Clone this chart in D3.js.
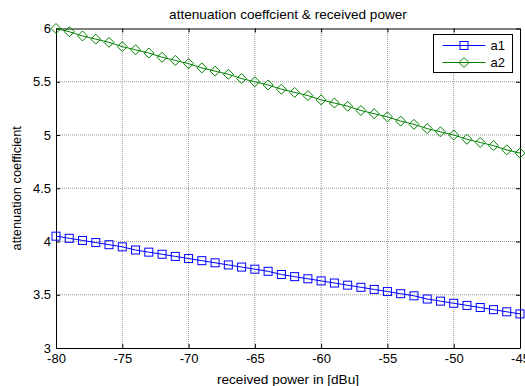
<!DOCTYPE html>
<html>
<head>
<meta charset="utf-8">
<script src="https://cdn.jsdelivr.net/npm/d3@7"></script>
<style>
  body { margin: 0; background: #fff; }
  svg { display: block; font-family: "Liberation Sans", Arial, sans-serif; }
</style>
</head>
<body>
<div id="chart"></div>
<script>
// received power [dBu], one point per dB
const power = [-80, -79, -78, -77, -76, -75, -74, -73, -72, -71, -70, -69, -68, -67, -66, -65, -64, -63,
  -62, -61, -60, -59, -58, -57, -56, -55, -54, -53, -52, -51, -50, -49, -48, -47, -46, -45];

const a1 = [4.05, 4.03, 4.01, 3.99, 3.97, 3.95, 3.92, 3.90, 3.88, 3.86, 3.84, 3.82, 3.80, 3.78, 3.76, 3.74,
  3.72, 3.69, 3.67, 3.65, 3.63, 3.61, 3.59, 3.57, 3.55, 3.53, 3.51, 3.49, 3.46, 3.44, 3.42, 3.40, 3.38, 3.36, 3.34, 3.32];

const a2 = [6.00, 5.97, 5.93, 5.90, 5.87, 5.83, 5.80, 5.77, 5.73, 5.70, 5.67, 5.63, 5.60, 5.57, 5.53, 5.50,
  5.47, 5.43, 5.40, 5.37, 5.33, 5.30, 5.27, 5.23, 5.20, 5.17, 5.13, 5.10, 5.06, 5.03, 5.00, 4.96, 4.93, 4.90, 4.86, 4.83];

const xTicks = [-80, -75, -70, -65, -60, -55, -50, -45];
const yTicks = [3, 3.5, 4, 4.5, 5, 5.5, 6];

const series = [
  { name: 'a1', values: a1, color: '#0000ff', marker: 'square' },
  { name: 'a2', values: a2, color: '#008000', marker: 'diamond' }
];

const width = 525, height = 386;
const margin = { top: 28.5, right: 5, bottom: 38, left: 56 };

const svg = d3.select('#chart').append('svg')
  .attr('width', width)
  .attr('height', height);

const x = d3.scaleLinear().domain([-80, -45]).range([margin.left, width - margin.right]);
const y = d3.scaleLinear().domain([3, 6]).range([height - margin.bottom, margin.top]);

// plain hyphen instead of d3's unicode minus
const fmt = d => String(d);

// grid
svg.append('g')
  .selectAll('line')
  .data(xTicks.slice(1, -1))
  .join('line')
  .attr('x1', d => x(d)).attr('x2', d => x(d))
  .attr('y1', y(3)).attr('y2', y(6))
  .attr('stroke', '#999').attr('stroke-width', 1)
  .attr('stroke-dasharray', '1,1');

svg.append('g')
  .selectAll('line')
  .data(yTicks.slice(1, -1))
  .join('line')
  .attr('x1', x(-80)).attr('x2', x(-45))
  .attr('y1', d => y(d)).attr('y2', d => y(d))
  .attr('stroke', '#999').attr('stroke-width', 1)
  .attr('stroke-dasharray', '1,1');

// axes (ticks inward, mirrored on top/right)
const tickFont = g => g.selectAll('text').attr('font-size', 13).attr('fill', '#000')
  .attr('font-family', '"Liberation Sans", Arial, sans-serif');

svg.append('g')
  .attr('transform', `translate(0,${y(3)})`)
  .call(d3.axisBottom(x).tickValues(xTicks).tickFormat(fmt).tickSizeInner(-4).tickSizeOuter(0).tickPadding(6))
  .call(tickFont)
  .call(g => g.select('.domain').attr('stroke', '#000'));

svg.append('g')
  .attr('transform', `translate(${x(-80)},0)`)
  .call(d3.axisLeft(y).tickValues(yTicks).tickFormat(fmt).tickSizeInner(-4).tickSizeOuter(0).tickPadding(5))
  .call(tickFont)
  .call(g => g.select('.domain').attr('stroke', '#000'));

svg.append('g')
  .attr('transform', `translate(0,${y(6)})`)
  .call(d3.axisTop(x).tickValues(xTicks).tickSizeInner(-4).tickSizeOuter(0).tickFormat(''))
  .call(g => g.select('.domain').attr('stroke', '#000'));

svg.append('g')
  .attr('transform', `translate(${x(-45)},0)`)
  .call(d3.axisRight(y).tickValues(yTicks).tickSizeInner(-4).tickSizeOuter(0).tickFormat(''))
  .call(g => g.select('.domain').attr('stroke', '#000'));

// series
const line = d3.line().x((d, i) => x(power[i])).y(d => y(d));

function drawMarker(g, type, cx, cy, color) {
  if (type === 'square') {
    g.append('rect')
      .attr('x', cx - 4).attr('y', cy - 4)
      .attr('width', 8).attr('height', 8)
      .style('fill', 'none').style('stroke', color).style('stroke-width', 1);
  } else {
    g.append('path')
      .attr('d', `M${cx},${cy - 5}L${cx + 5},${cy}L${cx},${cy + 5}L${cx - 5},${cy}Z`)
      .style('fill', 'none').style('stroke', color).style('stroke-width', 1);
  }
}

series.forEach(s => {
  const g = svg.append('g');
  g.append('path')
    .datum(s.values)
    .attr('d', line)
    .style('fill', 'none')
    .style('stroke', s.color)
    .style('stroke-width', 1);
  s.values.forEach((v, i) => drawMarker(g, s.marker, x(power[i]), y(v), s.color));
});

// title and labels
svg.append('text')
  .attr('x', (x(-80) + x(-45)) / 2).attr('y', 19)
  .attr('text-anchor', 'middle').attr('font-size', 13.6)
  .text('attenuation coeffcient & received power');

svg.append('text')
  .attr('x', (x(-80) + x(-45)) / 2).attr('y', 384)
  .attr('text-anchor', 'middle').attr('font-size', 13.6)
  .text('received power in [dBu]');

svg.append('text')
  .attr('transform', `translate(21,${(y(3) + y(6)) / 2}) rotate(-90)`)
  .attr('text-anchor', 'middle').attr('font-size', 12.8)
  .text('attenuation coefficient');

// legend
const legend = svg.append('g').attr('transform', 'translate(433.5,34.5)');
legend.append('rect')
  .attr('width', 79).attr('height', 38)
  .style('fill', '#fff').style('stroke', '#000').style('stroke-width', 1);

series.forEach((s, i) => {
  const ly = 11 + i * 17;
  legend.append('line')
    .attr('x1', 9).attr('x2', 52)
    .attr('y1', ly).attr('y2', ly)
    .style('stroke', s.color).style('stroke-width', 1);
  drawMarker(legend, s.marker, 30.5, ly, s.color);
  legend.append('text')
    .attr('x', 57).attr('y', ly + 4.5)
    .attr('font-size', 13)
    .text(s.name);
});
</script>
</body>
</html>
